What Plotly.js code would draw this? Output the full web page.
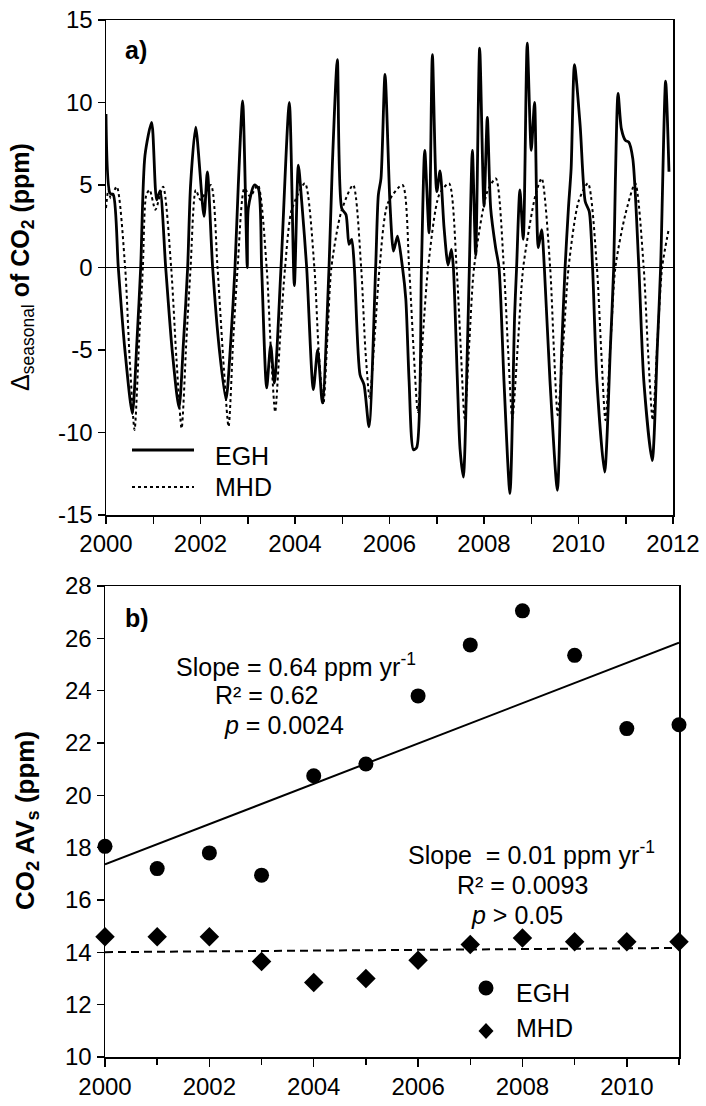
<!DOCTYPE html>
<html><head><meta charset="utf-8">
<script src="https://cdn.plot.ly/plotly-3.0.1.min.js"></script>
<style>html,body{margin:0;padding:0;background:#fff}#chart{width:706px;height:1106px}</style>
</head><body><div id="chart"></div>
<script>
const FONT = 'Liberation Sans, Arial, Helvetica, sans-serif';

// ---- Panel a: seasonal deviation of CO2 (ppm) ----
const eghTime = [2000.0,2000.085,2000.155,2000.26,2000.40,2000.557,2000.654,2000.734,2000.825,2000.967,
 2001.072,2001.143,2001.263,2001.40,2001.545,2001.64,2001.728,2001.79,2001.898,
 2002.074,2002.145,2002.257,2002.40,2002.54,2002.64,2002.73,2002.80,2002.892,2002.99,
 2003.012,2003.139,2003.224,2003.294,2003.40,2003.485,2003.563,2003.704,2003.88,2003.986,
 2004.071,2004.142,2004.247,2004.388,2004.48,2004.579,2004.72,2004.79,2004.896,2004.988,
 2005.08,2005.143,2005.2,2005.256,2005.376,2005.46,2005.566,2005.707,2005.764,2005.82,2005.905,
 2006.011,2006.085,2006.169,2006.275,2006.345,2006.415,2006.507,2006.577,2006.676,2006.746,2006.838,2006.908,
 2007.0,2007.07,2007.155,2007.24,2007.31,2007.352,2007.437,2007.493,2007.563,2007.648,2007.69,2007.754,2007.824,2007.908,
 2008.0,2008.07,2008.141,2008.246,2008.317,2008.423,2008.549,2008.648,2008.69,2008.76,2008.831,2008.915,
 2009.0,2009.07,2009.149,2009.22,2009.277,2009.397,2009.553,2009.645,2009.716,2009.787,2009.844,2009.915,
 2010.035,2010.142,2010.227,2010.298,2010.39,2010.553,2010.674,2010.745,2010.78,2010.837,2010.908,2010.993,
 2011.064,2011.149,2011.277,2011.383,2011.56,2011.667,2011.738,2011.844,2011.915];
const eghSeasonal = [9.3,4.5,4.4,0,-5,-8.85,-4.5,0,6.8,8.8,
 4.1,4.65,0,-5,-8.5,-4.5,0,5.0,8.5,
 3.1,5.8,0,-5,-8.0,-4.5,0,5.0,10.1,0,
 3.6,5.0,4.8,0,-7.3,-4.7,-7.0,0,10.0,-1.1,
 6.2,4.0,0,-7.4,-5.0,-8.2,0,6.2,12.6,3.6,
 3.2,1.4,1.7,0,-6.5,-7.1,-9.65,0,4.4,5.4,11.7,
 3.8,1.0,1.9,0,-1.9,-6.9,-11.05,-10.9,0,7.1,2.1,12.9,
 4.6,5.85,2.4,0.15,1.1,0,-6.9,-11.0,-12.7,-4.9,0,7.1,0.75,13.3,
 3.7,9.1,3.6,1.2,0,-6.9,-13.7,-2.9,0,4.7,1.7,13.6,
 7.1,10.0,1.2,2.3,0,-6.9,-13.5,-4.9,0,3.6,6.0,12.3,
 8.6,4.0,3.4,0,-6.9,-12.4,-4.9,0,5.2,10.55,8.4,7.7,
 7.6,6.6,0,-6.9,-11.7,-4.9,0,11.3,5.8];

const mhdTime = [2000.0,2000.05,2000.1,2000.227,2000.405,2000.50,2000.604,2000.70,2000.78,2000.853,2000.924,
 2001.045,2001.208,2001.379,2001.49,2001.6,2001.70,2001.79,2001.9,
 2002.0,2002.218,2002.36,2002.48,2002.594,2002.69,2002.786,2002.93,
 2003.05,2003.214,2003.40,2003.49,2003.58,2003.69,2003.79,2003.93,
 2004.21,2004.41,2004.5,2004.6,2004.69,2004.77,2004.98,
 2005.23,2005.40,2005.49,2005.58,2005.69,2005.79,2005.965,
 2006.275,2006.415,2006.51,2006.6,2006.71,2006.817,
 2007.05,2007.26,2007.42,2007.51,2007.59,2007.69,2007.79,
 2008.07,2008.25,2008.42,2008.51,2008.6,2008.72,2008.83,
 2009.09,2009.22,2009.40,2009.48,2009.56,2009.68,2009.79,
 2010.0,2010.2,2010.39,2010.48,2010.57,2010.68,2010.78,
 2010.99,2011.2,2011.38,2011.47,2011.57,2011.67,2011.77,2011.915];
const mhdSeasonal = [3.6,4.7,4.2,4.9,0,-5.5,-9.85,-4.5,0,4.4,4.7,
 3.5,4.9,0,-5.5,-9.75,-4.5,0,4.7,
 4.1,5.0,0,-5.5,-9.65,-4.5,0,4.8,
 4.3,5.0,0,-5,-8.75,-4,0,3.5,
 5.1,0,-5,-8.3,-4,0,3.4,
 5.0,0,-5,-7.9,-4,0,3.9,
 5.0,0,-5,-8.75,-4,0,
 4.4,5.1,0,-5,-9.15,-4.5,0,
 4.6,5.4,0,-5,-9.15,-4.5,0,
 4.4,5.4,0,-5,-8.95,-4.5,0,
 4.0,5.1,0,-5,-9.25,-4.5,0,
 3.2,5.1,0,-5,-9.25,-4.5,0,2.4];

const aXTickVals = [2000,2002,2004,2006,2008,2010,2012];
const aYTickVals = [-15,-10,-5,0,5,10,15];
const aYTickText = ['-15','-10','-5','0','5','10','15'];

// ---- Panel b: CO2 amplitude of variability (ppm) ----
const avYears = [2000,2001,2002,2003,2004,2005,2006,2007,2008,2009,2010,2011];
const eghAV = [18.05,17.2,17.8,16.95,20.75,21.2,23.8,25.75,27.05,25.35,22.55,22.7];
const mhdAV = [14.6,14.6,14.6,13.65,12.85,13.0,13.7,14.3,14.55,14.4,14.4,14.4];
const bXTickVals = [2000,2002,2004,2006,2008,2010];
const bYTickVals = [10,12,14,16,18,20,22,24,26,28];

function linfit(x, y) {
  const n = x.length;
  const mx = x.reduce((a,b)=>a+b,0)/n, my = y.reduce((a,b)=>a+b,0)/n;
  let sxy = 0, sxx = 0;
  for (let i=0;i<n;i++){ sxy += (x[i]-mx)*(y[i]-my); sxx += (x[i]-mx)*(x[i]-mx); }
  const b = sxy/sxx, a = my - b*mx;
  const xs = [x[0], x[n-1]];
  return {x: xs, y: xs.map(v => a + b*v)};
}
const eghFit = linfit(avYears, eghAV);
const mhdFit = linfit(avYears, mhdAV);

const W = 706, H = 1106;
const px = v => v / W, py = v => 1 - v / H;

const traces = [
  {x: mhdTime, y: mhdSeasonal, type: 'scatter', mode: 'lines', name: 'MHD', xaxis: 'x', yaxis: 'y',
   line: {color: '#000', width: 2, dash: 'dot', shape: 'spline', smoothing: 0.7}, showlegend: false, hoverinfo: 'skip'},
  {x: eghTime, y: eghSeasonal, type: 'scatter', mode: 'lines', name: 'EGH', xaxis: 'x', yaxis: 'y',
   line: {color: '#000', width: 2.8, shape: 'spline', smoothing: 0.7}, showlegend: false, hoverinfo: 'skip'},
  {x: eghFit.x, y: eghFit.y, type: 'scatter', mode: 'lines', xaxis: 'x2', yaxis: 'y2',
   line: {color: '#000', width: 2}, showlegend: false, hoverinfo: 'skip'},
  {x: mhdFit.x, y: mhdFit.y, type: 'scatter', mode: 'lines', xaxis: 'x2', yaxis: 'y2',
   line: {color: '#000', width: 2, dash: '8px,5px'}, showlegend: false, hoverinfo: 'skip'},
  {x: avYears, y: eghAV, type: 'scatter', mode: 'markers', name: 'EGH', xaxis: 'x2', yaxis: 'y2',
   marker: {symbol: 'circle', size: 15, color: '#000'}, cliponaxis: false, showlegend: false},
  {x: avYears, y: mhdAV, type: 'scatter', mode: 'markers', name: 'MHD', xaxis: 'x2', yaxis: 'y2',
   marker: {symbol: 'diamond', size: 15, color: '#000'}, cliponaxis: false, showlegend: false}
];

const axBase = {
  showline: true, mirror: true, linecolor: '#000', linewidth: 1.5,
  showgrid: false, zeroline: false, ticks: 'outside', ticklen: 7, tickwidth: 1.5, tickcolor: '#000',
  tickfont: {family: FONT, size: 24, color: '#000'}, fixedrange: true
};

const annFont = {family: FONT, size: 25, color: '#000'};
const annotations = [
  {text: '<b>a)</b>', x: px(124), y: py(50), xanchor: 'left', yanchor: 'middle'},
  {text: '<b>b)</b>', x: px(124), y: py(618), xanchor: 'left', yanchor: 'middle'},
  {text: 'EGH', x: px(214), y: py(456), xanchor: 'left', yanchor: 'middle'},
  {text: 'MHD', x: px(214), y: py(487), xanchor: 'left', yanchor: 'middle'},
  {text: 'Δ<sub>seasonal</sub><b> of CO<sub>2</sub> (ppm)</b>', x: px(22), y: py(267), textangle: -90, xanchor: 'center', yanchor: 'middle'},
  {text: '<b>CO<sub>2</sub> AV<sub>s</sub> (ppm)</b>', x: px(26), y: py(821), textangle: -90, xanchor: 'center', yanchor: 'middle',
   font: {family: FONT, size: 26, color: '#000'}},
  {text: 'Slope = 0.64 ppm yr<sup>-1</sup>', x: px(175), y: py(665), xanchor: 'left', yanchor: 'middle'},
  {text: 'R² = 0.62', x: px(214), y: py(695), xanchor: 'left', yanchor: 'middle'},
  {text: '<i>p</i> = 0.0024', x: px(223), y: py(725), xanchor: 'left', yanchor: 'middle'},
  {text: 'Slope&nbsp; = 0.01 ppm yr<sup>-1</sup>', x: px(407), y: py(853), xanchor: 'left', yanchor: 'middle'},
  {text: 'R² = 0.0093', x: px(456), y: py(885), xanchor: 'left', yanchor: 'middle'},
  {text: '<i>p</i> &gt; 0.05', x: px(470), y: py(915), xanchor: 'left', yanchor: 'middle'},
  {text: 'EGH', x: px(515), y: py(993), xanchor: 'left', yanchor: 'middle'},
  {text: 'MHD', x: px(515), y: py(1028), xanchor: 'left', yanchor: 'middle'}
].map(a => Object.assign({xref: 'paper', yref: 'paper', showarrow: false, font: annFont, borderpad: 0}, a));

const r = 7.5;
const shapes = [
  {type: 'line', xref: 'paper', yref: 'paper', x0: px(132), x1: px(194), y0: py(450), y1: py(450), line: {color: '#000', width: 2.8}},
  {type: 'line', xref: 'paper', yref: 'paper', x0: px(132), x1: px(194), y0: py(487), y1: py(487), line: {color: '#000', width: 2, dash: 'dot'}},
  {type: 'circle', xref: 'paper', yref: 'paper', x0: px(486 - r), x1: px(486 + r), y0: py(988 - r), y1: py(988 + r), fillcolor: '#000', line: {width: 0}},
  {type: 'path', xref: 'paper', yref: 'paper',
   path: `M${px(486)},${py(1031 - 8)} L${px(486 + 7.5)},${py(1031)} L${px(486)},${py(1031 + 8)} L${px(486 - 7.5)},${py(1031)} Z`,
   fillcolor: '#000', line: {width: 0}}
];

const layout = {
  width: W, height: H, margin: {l: 0, r: 0, t: 0, b: 0},
  paper_bgcolor: '#fff', plot_bgcolor: '#fff', showlegend: false,
  font: {family: FONT, color: '#000'},
  xaxis: Object.assign({}, axBase, {domain: [px(106), px(673)], anchor: 'y', range: [2000, 2012],
    tickmode: 'array', tickvals: aXTickVals,
    minor: {dtick: 1, tick0: 2000, ticks: 'outside', ticklen: 7, tickwidth: 1.5, tickcolor: '#000'}}),
  yaxis: Object.assign({}, axBase, {domain: [py(515), py(20)], anchor: 'x', range: [-15, 15],
    tickmode: 'array', tickvals: aYTickVals, ticktext: aYTickText,
    zeroline: true, zerolinecolor: '#000', zerolinewidth: 1.3}),
  xaxis2: Object.assign({}, axBase, {domain: [px(105), px(679)], anchor: 'y2', range: [2000, 2011],
    tickmode: 'array', tickvals: bXTickVals, ticklen: 8,
    minor: {dtick: 1, tick0: 2000, ticks: 'outside', ticklen: 6, tickwidth: 1.5, tickcolor: '#000'}}),
  yaxis2: Object.assign({}, axBase, {domain: [py(1057), py(586)], anchor: 'x2', range: [10, 28],
    tickmode: 'array', tickvals: bYTickVals}),
  annotations: annotations,
  shapes: shapes
};

Plotly.newPlot('chart', traces, layout, {displayModeBar: false, staticPlot: true});
</script></body></html>
